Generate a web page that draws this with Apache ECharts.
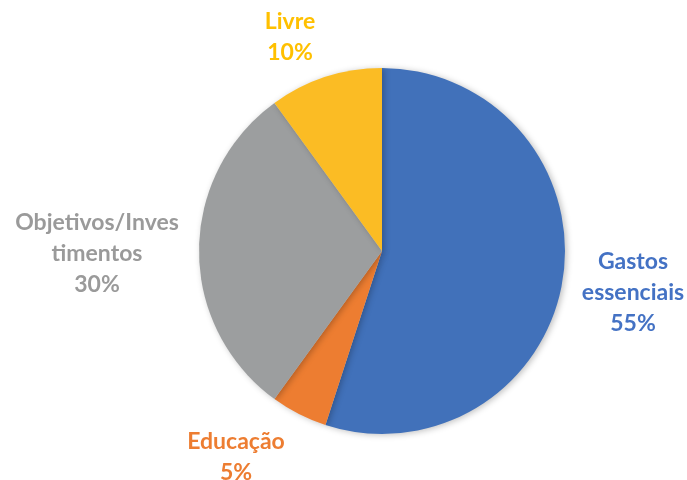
<!DOCTYPE html>
<html>
<head>
<meta charset="utf-8">
<script src="https://cdn.jsdelivr.net/npm/echarts@6/dist/echarts.min.js"></script>
<style>html,body{margin:0;padding:0;background:#fff}#c{width:687px;height:480px}</style>
</head>
<body>
<div id="c"></div>
<script>
const categories = ['Gastos\nessenciais', 'Educação', 'Objetivos/Inves\ntimentos', 'Livre'];
const values = [55, 5, 30, 10];
const sliceColors = ['#4171BA', '#ED7D31', '#9C9E9F', '#FBBC24'];
const labelColors = ['#4472C4', '#ED7D31', '#9A9A9A', '#FFC000'];
const labelPos = [[633, 293], [236, 457], [97, 254], [290, 37]];

const chart = echarts.init(document.getElementById('c'), null, {renderer: 'canvas'});
chart.setOption({
  animation: false,
  series: [{
    type: 'pie',
    center: [382, 251],
    radius: [0, 183],
    startAngle: 90,
    clockwise: true,
    avoidLabelOverlap: false,
    data: categories.map((n, i) => ({
      name: n,
      value: values[i],
      itemStyle: {color: sliceColors[i]},
      label: {color: labelColors[i]}
    })),
    itemStyle: {borderWidth: 0, shadowBlur: 6, shadowColor: 'rgba(0,0,0,0.25)', shadowOffsetX: 2, shadowOffsetY: 1},
    label: {
      show: true,
      position: 'outside',
      formatter: '{b}\n{c}%',
      fontFamily: 'Lato',
      fontWeight: 'bold',
      fontSize: 23,
      lineHeight: 31,
      align: 'center'
    },
    labelLine: {show: false},
    labelLayout: function (p) {
      const pos = labelPos[p.dataIndex];
      return {x: pos[0], y: pos[1], align: 'center', verticalAlign: 'middle', hideOverlap: false};
    },
    emphasis: {disabled: true}
  }]
});
</script>
</body>
</html>
